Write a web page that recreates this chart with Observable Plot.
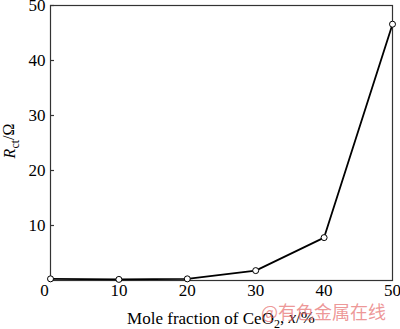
<!DOCTYPE html>
<html>
<head>
<meta charset="utf-8">
<script src="https://cdn.jsdelivr.net/npm/d3@7"></script>
<script src="https://cdn.jsdelivr.net/npm/@observablehq/plot@0.6"></script>
<style>
html,body{margin:0;padding:0;background:#fff;}
#chart{width:400px;height:329px;}
#chart svg text{font-family:"Liberation Serif", "Times New Roman", serif;}
</style>
</head>
<body>
<div id="chart"></div>
<script>
const ceo2Fraction = [0, 10, 20, 30, 40, 50];
const rctValues = [0.3, 0.2, 0.3, 1.8, 7.8, 46.6];
const xTicks = [10, 20, 30, 40, 50];
const xOriginTick = [0];
const yTicks = [10, 20, 30, 40, 50];

const data = ceo2Fraction.map((x, i) => ({x, y: rctValues[i]}));

const chart = Plot.plot({
  width: 400,
  height: 329,
  marginLeft: 50,
  marginRight: 8,
  marginTop: 5,
  marginBottom: 49,
  x: {domain: [0, 50]},
  y: {domain: [0, 50]},
  style: {fontFamily: "Liberation Serif", fontSize: "17px", color: "#000", background: "#fff", overflow: "visible"},
  marks: [
    Plot.frame({stroke: "#333", strokeWidth: 1.2}),
    Plot.axisY(yTicks, {tickSize: -4, tickPadding: 9, label: null, fontSize: 17, fontFamily: "Liberation Serif", stroke: "#333", strokeWidth: 1.2}),
    Plot.axisX(xTicks, {tickSize: 0, tickPadding: 3, label: null, fontSize: 17, fontFamily: "Liberation Serif"}),
    Plot.axisX(xOriginTick, {tickSize: 0, tickPadding: 3, label: null, fontSize: 17, fontFamily: "Liberation Serif", dx: -6}),
    Plot.line(data, {x: "x", y: "y", stroke: "#000", strokeWidth: 1.8}),
    Plot.dot(data, {x: "x", y: "y", r: 3, fill: "white", stroke: "#000", strokeWidth: 1})
  ]
});
document.getElementById("chart").appendChild(chart);

const svg = d3.select(chart);
// y-axis title
const yt = svg.append("text")
  .attr("transform", "translate(15,141) rotate(-90)")
  .attr("text-anchor", "middle")
  .style("font-size", "16px")
  .attr("fill", "#000");
yt.append("tspan").style("font-style", "italic").text("R");
yt.append("tspan").attr("dy", "0.3em").style("font-size", "12px").text("ct");
yt.append("tspan").attr("dy", "-0.3em").text("/Ω");

// x-axis title
const xt = svg.append("text")
  .attr("x", 221).attr("y", 324)
  .attr("text-anchor", "middle")
  .style("font-size", "17px")
  .attr("fill", "#000");
xt.append("tspan").text("Mole fraction of CeO");
xt.append("tspan").attr("dy", "0.3em").style("font-size", "12px").text("2");
xt.append("tspan").attr("dy", "-0.3em").text(", ");
xt.append("tspan").style("font-style", "italic").text("x");
xt.append("tspan").text("/%");

// watermark
svg.append("text")
  .attr("x", 261).attr("y", 319)
  .attr("text-anchor", "start")
  .style("font-family", "'Noto Sans CJK SC', sans-serif")
  .style("font-size", "18px")
  .attr("fill", "#e66a6a")
  .attr("fill-opacity", 0.7)
  .text("@有色金属在线");
</script>
</body>
</html>
